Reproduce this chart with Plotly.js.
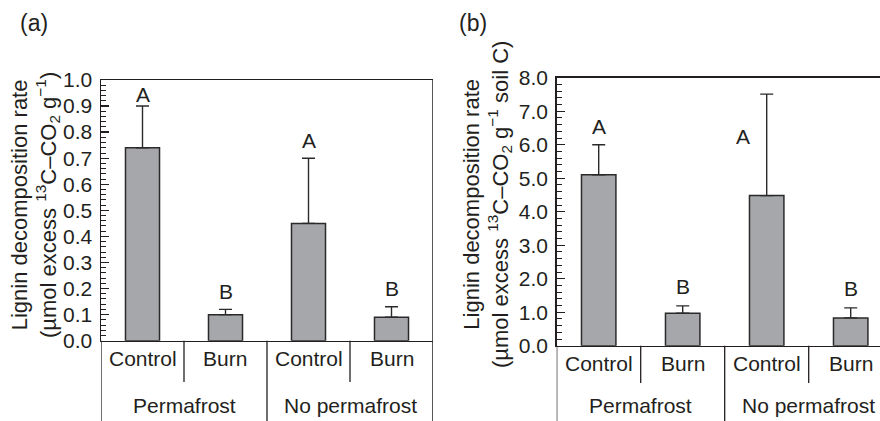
<!DOCTYPE html>
<html>
<head>
<meta charset="utf-8">
<script src="https://cdn.plot.ly/plotly-3.0.1.min.js"></script>
<style>html,body{margin:0;padding:0;background:#fff;}#chart{width:880px;height:421px;}</style>
</head>
<body>
<div id="chart"></div>
<script>
// ---- data ----
const treatments = ["Control", "Burn", "Control", "Burn"];
const groupLabels = ["Permafrost", "No permafrost"];
const rateA = [0.74, 0.10, 0.45, 0.09];
const errA = [0.16, 0.02, 0.25, 0.04];
const lettersA = ["A", "B", "A", "B"];
const rateB = [5.1, 0.97, 4.48, 0.83];
const errB = [0.9, 0.22, 3.03, 0.30];
const lettersB = ["A", "B", "A", "B"];
const yTitleA = "Lignin decomposition rate<br>(µmol excess <sup>13</sup>C–CO<sub>2</sub> g<sup>−1</sup>)";
const yTitleB = "Lignin decomposition rate<br>(µmol excess <sup>13</sup>C–CO<sub>2</sub> g<sup>−1</sup> soil C)";
const yTicksA = [0, 0.1, 0.2, 0.3, 0.4, 0.5, 0.6, 0.7, 0.8, 0.9, 1.0];
const yTicksB = [0, 1, 2, 3, 4, 5, 6, 7, 8];

// ---- style ----
const FONT = "Liberation Sans, Arial, sans-serif";
const INK = "#231f20";
const BAR = "#a6a7aa";
const FS = 21;
const xs = treatments.map((_, i) => i);

function barTrace(vals, errs, xa, ya) {
  return {
    type: "bar", x: xs, y: vals, xaxis: xa, yaxis: ya, width: 0.41,
    marker: {color: BAR, line: {color: "#2a2a2a", width: 1.5}},
    error_y: {type: "data", symmetric: false, array: errs, arrayminus: errs.map(() => 0),
              color: "#2a2a2a", thickness: 1.4, width: 6.5},
    hoverinfo: "skip", showlegend: false
  };
}

const panels = [
  {xa: "x", ya: "y", xd: [101/880, 433/880], yd: [1 - 340.7/421, 1 - 80/421], vals: rateA, errs: errA,
   letters: lettersA, lshift: [12, 18, 18, 18], lxshift: [0, 0, 0, 0],
   range: [0, 1], ticks: yTicksA, minor: 0.02, fmt: v => v.toFixed(1), title: yTitleA, titleX: 35/880, titleY: 1 - 205/421,
   xrange: [-0.5, 3.5], ctrlY: 1 - 358/421, grpY: 1 - 405/421, divEnd: 1 - 382/421, rightBorder: true},
  {xa: "x2", ya: "y2", xd: [556.7/880, 1], yd: [1 - 345.7/421, 1 - 77.7/421], vals: rateB, errs: errB,
   letters: lettersB, lshift: [18, 19, -42, 19], lxshift: [0, 0, -24, 0],
   range: [0, 8], ticks: yTicksB, minor: 0.2, fmt: v => v.toFixed(1), title: yTitleB, titleX: 487/880, titleY: 1 - 205/421,
   xrange: [-0.5, -0.5 + (880 - 556.7) / 84], ctrlY: 1 - 363/421, grpY: 1 - 405/421, divEnd: 1 - 383/421, rightBorder: false}
];

const data = [];
const shapes = [];
const annotations = [];
const layout = {
  width: 880, height: 421, margin: {l: 0, r: 0, t: 0, b: 0},
  paper_bgcolor: "#fff", plot_bgcolor: "#fff",
  font: {family: FONT, size: FS, color: INK},
  showlegend: false, bargap: 0.59
};

panels.forEach((p, k) => {
  data.push(barTrace(p.vals, p.errs, p.xa, p.ya));
  const xKey = k === 0 ? "xaxis" : "xaxis2";
  const yKey = k === 0 ? "yaxis" : "yaxis2";
  layout[xKey] = {
    domain: p.xd, range: p.xrange, anchor: p.ya, showgrid: false, zeroline: false,
    showticklabels: false, ticks: "", showline: true, linecolor: INK, linewidth: 1.5, mirror: true, fixedrange: true
  };
  layout[yKey] = {
    domain: p.yd, range: p.range, anchor: p.xa, showgrid: false, zeroline: false,
    tickmode: "array", tickvals: p.ticks, ticktext: p.ticks.map(p.fmt),
    ticks: "inside", ticklen: 8, tickwidth: 1.3, tickcolor: INK,
    minor: {dtick: p.minor, ticks: "inside", ticklen: 5, tickwidth: 1, tickcolor: INK, showgrid: false},
    showline: true, linecolor: INK, linewidth: 1.5, mirror: false,
    tickfont: {family: FONT, size: FS, color: INK}, ticklabelstandoff: 3,
    fixedrange: true
  };
  // y-axis title (two lines, rotated)
  annotations.push({xref: "paper", yref: "paper", x: p.titleX, y: p.titleY, text: p.title, textangle: -90,
                    showarrow: false, xanchor: "center", yanchor: "middle", align: "center",
                    font: {family: FONT, size: 22, color: INK}});
  // helper: data x -> paper x for this panel
  const toPaper = v => p.xd[0] + (v - p.xrange[0]) / (p.xrange[1] - p.xrange[0]) * (p.xd[1] - p.xd[0]);
  const line = {color: INK, width: 1.3};
  // table lines under the axis
  shapes.push({type: "line", xref: p.xa, yref: "paper", x0: -0.5, x1: -0.5, y0: p.yd[0], y1: 0, line});
  shapes.push({type: "line", xref: p.xa, yref: "paper", x0: 1.5, x1: 1.5, y0: p.yd[0], y1: 0, line});
  shapes.push({type: "line", xref: p.xa, yref: "paper", x0: 0.5, x1: 0.5, y0: p.yd[0], y1: p.divEnd, line});
  shapes.push({type: "line", xref: p.xa, yref: "paper", x0: 2.5, x1: 2.5, y0: p.yd[0], y1: p.divEnd, line});
  if (p.rightBorder) {
    shapes.push({type: "line", xref: p.xa, yref: "paper", x0: 3.5, x1: 3.5, y0: p.yd[1], y1: 0, line: {color: INK, width: 1.5}});
  }
  treatments.forEach((t, i) => {
    annotations.push({xref: "paper", yref: "paper", x: toPaper(i), y: p.ctrlY, text: t, showarrow: false,
                      xanchor: "center", yanchor: "middle", font: {family: FONT, size: FS, color: INK}});
    annotations.push({xref: p.xa, yref: p.ya, x: i, y: p.vals[i] + p.errs[i], text: p.letters[i], showarrow: false,
                      xanchor: "center", yanchor: "middle", yshift: p.lshift[i], xshift: p.lxshift[i],
                      font: {family: FONT, size: FS, color: INK}});
  });
  groupLabels.forEach((g, j) => {
    annotations.push({xref: "paper", yref: "paper", x: toPaper(0.5 + 2 * j), y: p.grpY, text: g, showarrow: false,
                      xanchor: "center", yanchor: "middle", font: {family: FONT, size: FS, color: INK}});
  });
});

annotations.push({xref: "paper", yref: "paper", x: 34/880, y: 1 - 23/421, text: "(a)", showarrow: false,
                  xanchor: "center", yanchor: "middle", font: {family: FONT, size: 23, color: INK}});
annotations.push({xref: "paper", yref: "paper", x: 473/880, y: 1 - 23/421, text: "(b)", showarrow: false,
                  xanchor: "center", yanchor: "middle", font: {family: FONT, size: 23, color: INK}});

layout.shapes = shapes;
layout.annotations = annotations;

Plotly.newPlot("chart", data, layout, {displayModeBar: false, staticPlot: true});
</script>
</body>
</html>
